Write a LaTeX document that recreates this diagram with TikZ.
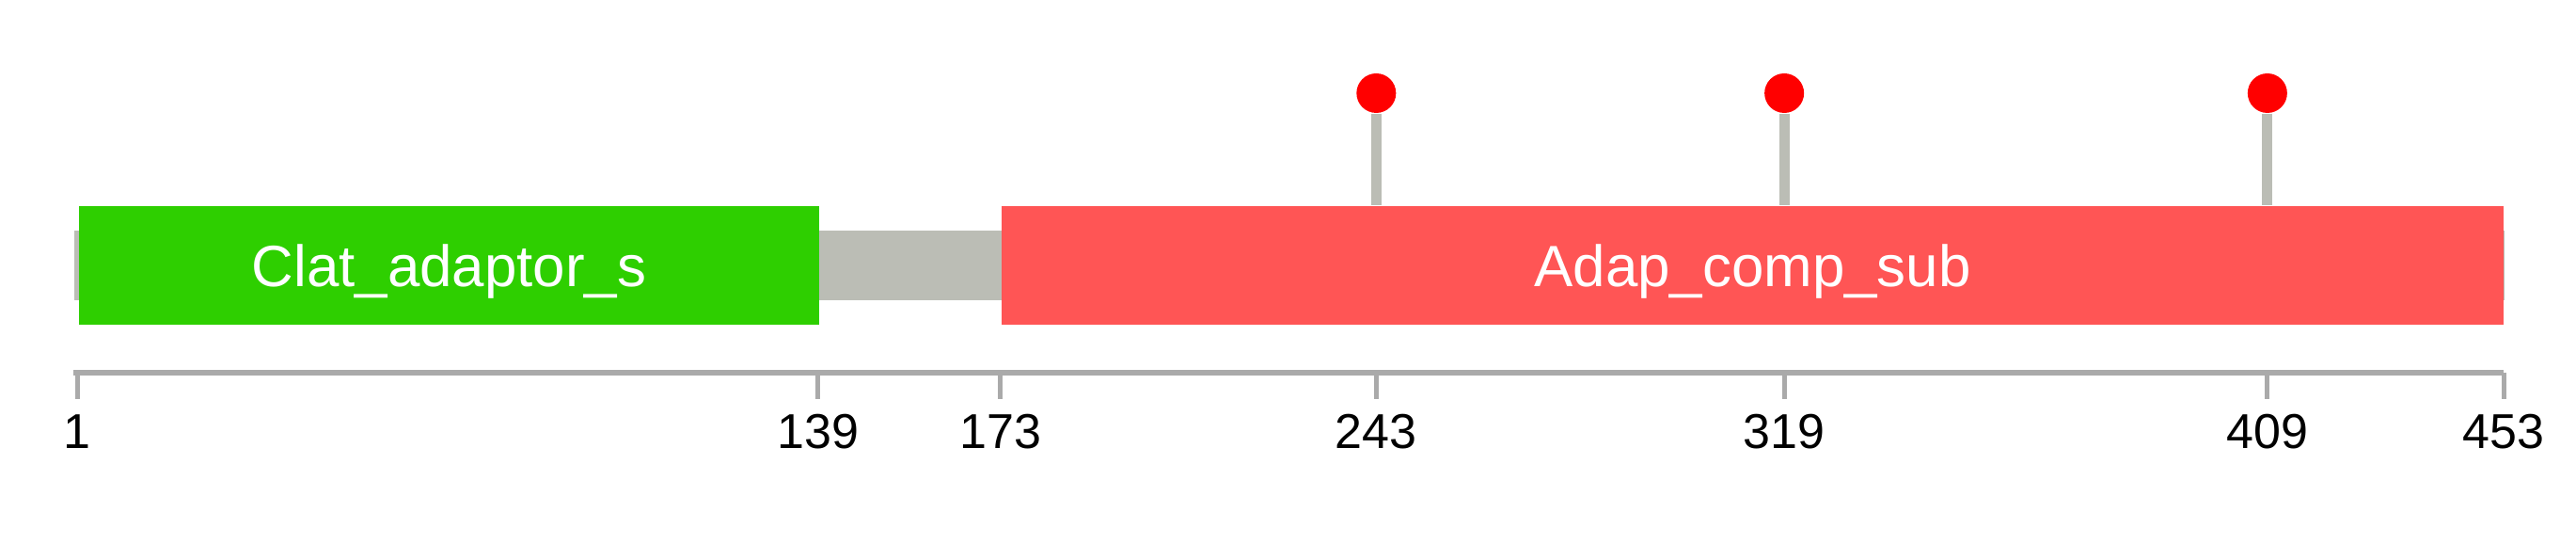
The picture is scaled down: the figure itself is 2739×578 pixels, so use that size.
\documentclass[tikz,border=0pt]{standalone}
\usepackage{fontspec}
\setmainfont{Liberation Sans}
\definecolor{domgreen}{HTML}{2ECF00}
\definecolor{domred}{HTML}{FF5555}
\definecolor{chaingray}{HTML}{BBBDB5}
\definecolor{axisgray}{HTML}{AAAAAA}
\definecolor{sitered}{HTML}{FF0000}

\begin{document}
\begin{tikzpicture}[x=0.1mm,y=-0.1mm,
                    pfam/.style={inner sep=0pt,text=white,text depth=0pt,
                                 minimum height=12.6mm,
                                 font=\fontsize{17.6}{20}\selectfont},
                    sitedot/.style={circle,fill=sitered,inner sep=0pt,
                                    minimum size=4.2mm},
                    sitestem/.style={draw=chaingray,line width=1.1mm},
                    axisline/.style={draw=axisgray,line width=0.57mm},
                    tickmark/.style={draw=axisgray,line width=0.5mm},
                    ticklabel/.style={inner sep=0pt,
                                      font=\fontsize{14.8}{17}\selectfont}]
  \useasboundingbox (0,0) rectangle (2739,578);
  \node[fill=chaingray,inner sep=0pt,minimum width=258.4mm,
        minimum height=7.35mm,anchor=west] (chain) at (78,282) {};
  \node[pfam,fill=domgreen,minimum width=78.7mm] (clat) at (477.5,282)
       {Clat\_adaptor\_s};
  \node[pfam,fill=domred,minimum width=159.7mm] (adap) at (1863.5,282)
       {Adap\_comp\_sub};
  % scale bar
  \coordinate (axstart) at (78,396);
  \coordinate (axend) at (2662,396);
  \draw[axisline] (axstart) -- (axend);
  \foreach \r in {1,139,173,243,319,409,453} {
    \pgfmathsetmacro\xr{82+(\r-1)*5.708}
    \coordinate (t\r) at (\xr,396);
    \draw[tickmark] (t\r) -- ++(0,28);
    \node[ticklabel] (l\r) at (\xr,459) {\r};
  }
  % modified sites
  \foreach \r in {243,319,409} {
    \pgfmathsetmacro\xr{82+(\r-1)*5.708}
    \node[sitedot] (s\r) at (\xr,99) {};
    \draw[sitestem] (s\r) -- (s\r |- adap.north);
  }
\end{tikzpicture}
\end{document}
